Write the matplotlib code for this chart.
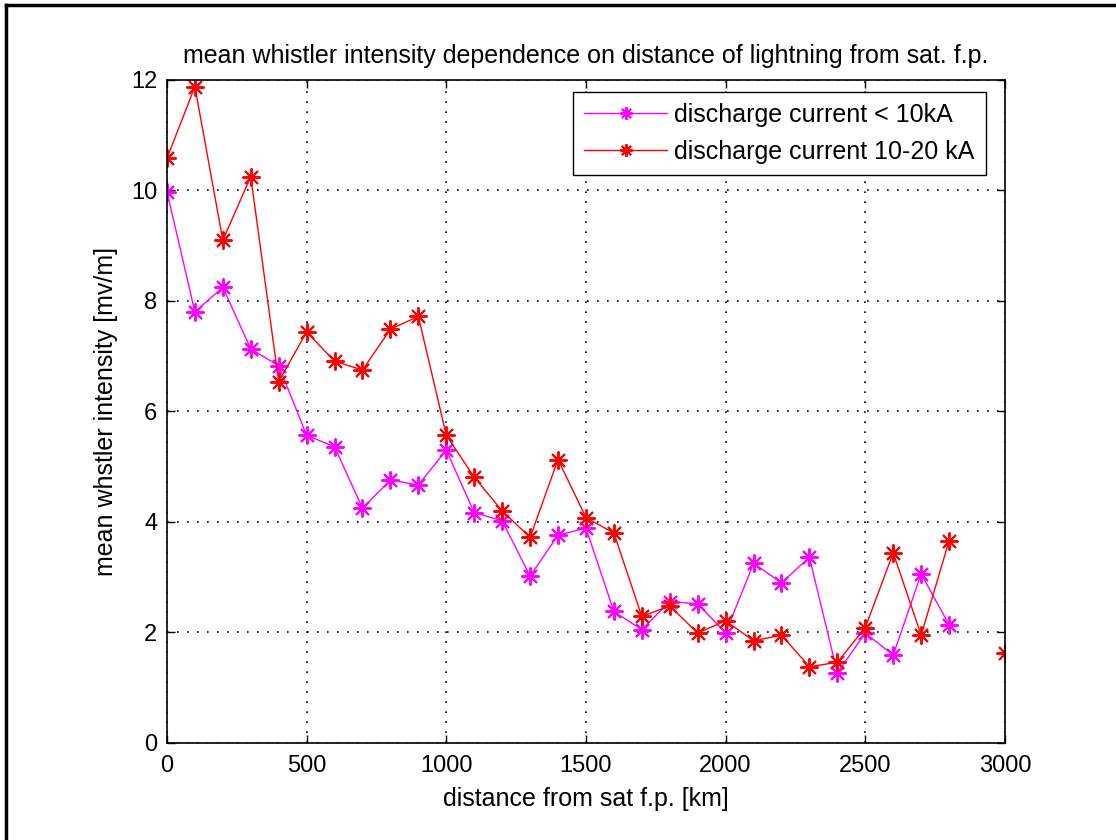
import matplotlib
matplotlib.use('Agg')
import matplotlib.pyplot as plt
from matplotlib.lines import Line2D
import numpy as np

plt.rcParams['font.family'] = ['Liberation Sans', 'DejaVu Sans']

# distance from satellite footprint [km]
distLow = np.arange(0, 2801, 100)
distHigh = np.arange(0, 3001, 100)

# mean whistler intensity [mV/m], discharge current < 10 kA
intensityLow = [9.98, 7.80, 8.25, 7.13, 6.83, 5.57, 5.36, 4.25, 4.76, 4.67,
                5.30, 4.17, 4.02, 3.02, 3.76, 3.89, 2.38, 2.05, 2.56, 2.52,
                1.99, 3.25, 2.90, 3.36, 1.27, 1.99, 1.59, 3.06, 2.14]

# discharge current 10-20 kA (no value at 2900 km)
intensityHigh = [10.58, 11.88, 9.10, 10.25, 6.54, 7.44, 6.91, 6.75, 7.49, 7.72,
                 5.57, 4.81, 4.20, 3.72, 5.13, 4.08, 3.80, 2.29, 2.48, 1.99,
                 2.21, 1.85, 1.95, 1.38, 1.46, 2.09, 3.44, 1.95, 3.66, np.nan,
                 1.63]

xTicks = [0, 500, 1000, 1500, 2000, 2500, 3000]
yTicks = [0, 2, 4, 6, 8, 10, 12]

asterisk = (8, 2, 0)

fig = plt.figure(figsize=(11.16, 8.4), dpi=100)
ax = fig.add_axes([0.1496, 0.1155, 0.7509, 0.7893])

ax.plot(distLow, intensityLow, color='magenta', lw=1.0, marker=asterisk,
        markersize=13, markeredgewidth=1.4, label='discharge current < 10kA')
ax.plot(distHigh, intensityHigh, color='red', lw=1.0, marker=asterisk,
        markersize=13, markeredgewidth=1.4, label='discharge current 10-20 kA')

ax.set_xlim(0, 3000)
ax.set_ylim(0, 12)
ax.set_xticks(xTicks)
ax.set_yticks(yTicks)
ax.tick_params(direction='in', length=6, width=1, top=True, right=True,
               labelsize=17)
ax.tick_params(axis='x', pad=9)
ax.tick_params(axis='y', pad=7)
ax.grid(True, color='black', linestyle=(0, (1, 5)), linewidth=1.2)
for sp in ax.spines.values():
    sp.set_linewidth(1.2)

ax.set_xlabel('distance from sat f.p. [km]', fontsize=18, labelpad=7)
ax.set_ylabel('mean whstler intensity [mv/m]', fontsize=18, labelpad=9)
ax.set_title('mean whistler intensity dependence on distance of lightning from sat. f.p.',
             fontsize=18, pad=12)

leg = ax.legend(loc='upper right', bbox_to_anchor=(0.9773, 0.9819),
                borderaxespad=0, fontsize=18, fancybox=False, framealpha=1,
                edgecolor='black', handlelength=3.3, handletextpad=0.3,
                borderpad=0.45, labelspacing=0.5, markerscale=0.7)
leg.get_frame().set_linewidth(1.0)

# frame lines of the original screenshot (top and left)
fig.add_artist(Line2D([0.0055, 1.0], [0.9940, 0.9940], color='black', lw=2.5,
                      transform=fig.transFigure))
fig.add_artist(Line2D([0.0055, 0.0055], [0.0, 0.9940], color='black', lw=2.5,
                      transform=fig.transFigure))

plt.savefig('out.png', dpi=100)
